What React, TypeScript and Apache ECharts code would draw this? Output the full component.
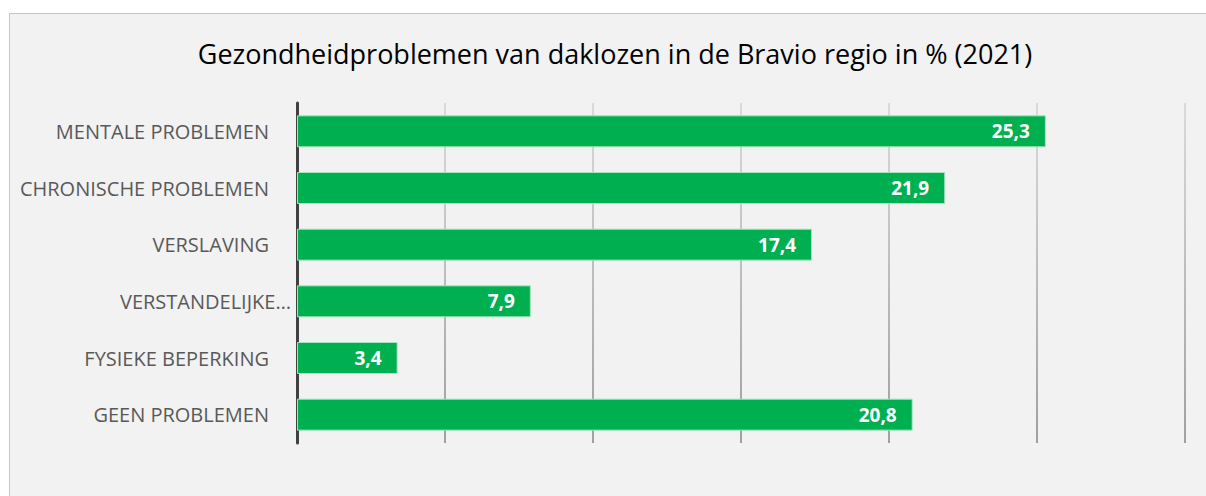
import React, { useEffect, useRef } from "react";
import * as echarts from "echarts";

const titleText = "Gezondheidproblemen van daklozen in de Bravio regio in % (2021)";
const categories = [
  "MENTALE PROBLEMEN",
  "CHRONISCHE PROBLEMEN",
  "VERSLAVING",
  "VERSTANDELIJKE BEPERKING",
  "FYSIEKE BEPERKING",
  "GEEN PROBLEMEN",
];
const displayLabels: Record<string, string> = {
  "VERSTANDELIJKE BEPERKING": "{e|VERSTANDELIJKE…}",
};
const values = [25.3, 21.9, 17.4, 7.9, 3.4, 20.8];
const axisMin = 0;
const axisMax = 30;
const axisInterval = 5;

export default function App() {
  const ref = useRef<HTMLDivElement>(null);
  useEffect(() => {
    if (!ref.current) return;
    const chart = echarts.init(ref.current, null, { renderer: "svg" });
    chart.setOption({
      animation: false,
      backgroundColor: "#f2f2f2",
      title: {
        text: titleText,
        left: "center",
        top: 21,
        textStyle: {
          fontFamily: "Open Sans",
          fontSize: 27,
          fontWeight: "normal",
          color: "#000000",
        },
      },
      grid: { left: 287, width: 888, top: 89, height: 340 },
      xAxis: {
        type: "value",
        min: axisMin,
        max: axisMax,
        interval: axisInterval,
        axisLabel: { show: false },
        axisLine: { show: false },
        axisTick: { show: false },
        splitLine: {
          show: true,
          lineStyle: {
            width: 2,
            color: new echarts.graphic.LinearGradient(
              0, 89, 0, 429,
              [
                { offset: 0, color: "#dadada" },
                { offset: 1, color: "#a0a0a0" },
              ],
              true
            ),
          },
        },
      },
      yAxis: {
        type: "category",
        data: categories,
        inverse: true,
        axisLine: { show: true, lineStyle: { color: "#404040", width: 3 } },
        axisTick: { show: false },
        axisLabel: {
          margin: 28,
          color: "#595959",
          fontFamily: "Open Sans",
          fontSize: 20,
          formatter: (v: string) => displayLabels[v] ?? v,
          rich: {
            e: {
              color: "#595959",
              fontFamily: "Open Sans",
              fontSize: 20,
              padding: [0, -22, 0, 0],
            },
          },
        },
        splitLine: { show: false },
      },
      series: [
        {
          type: "bar",
          data: values,
          barWidth: 32,
          itemStyle: {
            color: "#00b050",
            borderColor: "#a8e4bf",
            borderWidth: 1,
          },
          label: {
            show: true,
            position: "insideRight",
            distance: 16,
            color: "#ffffff",
            fontFamily: "Open Sans",
            fontWeight: "bold",
            fontSize: 19,
            formatter: (p: any) => String(p.value).replace(".", ","),
          },
        },
      ],
    });
    return () => chart.dispose();
  }, []);
  return (
    <div
      style={{
        position: "fixed",
        left: 0,
        top: 0,
        width: 1206,
        height: 496,
        overflow: "hidden",
        background: "#ffffff",
      }}
    >
      <div
        style={{
          position: "absolute",
          left: 9,
          top: 13,
          width: 1210,
          height: 500,
          border: "1px solid #c4c4c4",
          background: "#f2f2f2",
        }}
      >
        <div ref={ref} style={{ width: 1210, height: 500 }} />
      </div>
    </div>
  );
}
